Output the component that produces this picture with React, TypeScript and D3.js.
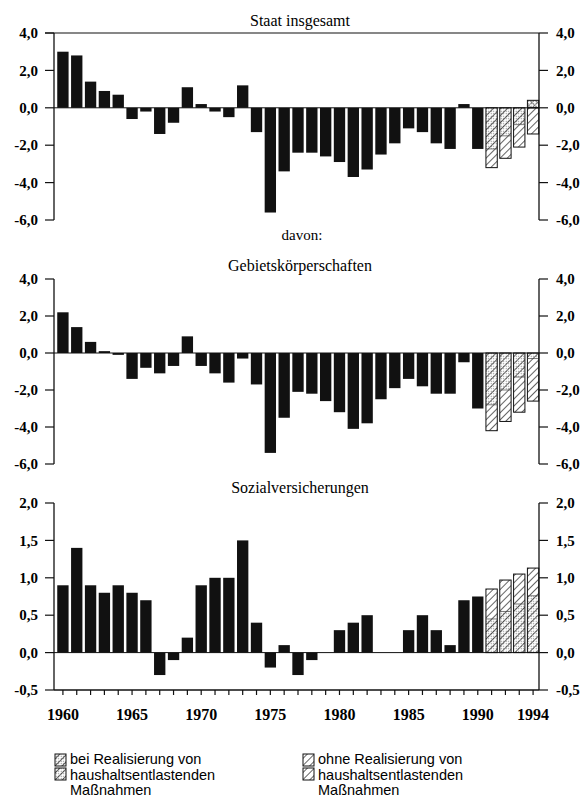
import React from 'react';
import * as d3 from 'd3';

// years shown on the x axis
const years = d3.range(1960, 1995);
const yearLabels = [1960, 1965, 1970, 1975, 1980, 1985, 1990, 1994];

// actual balances 1960-1990 (in % of GNP)
const staat = [3.0, 2.8, 1.4, 0.9, 0.7, -0.6, -0.2, -1.4, -0.8, 1.1, 0.2, -0.2, -0.5, 1.2, -1.3, -5.6, -3.4, -2.4, -2.4, -2.6, -2.9, -3.7, -3.3, -2.5, -1.9, -1.1, -1.3, -1.9, -2.2, 0.2, -2.2];
const gebiet = [2.2, 1.4, 0.6, 0.1, -0.1, -1.4, -0.8, -1.1, -0.7, 0.9, -0.7, -1.1, -1.6, -0.3, -1.7, -5.4, -3.5, -2.1, -2.2, -2.6, -3.2, -4.1, -3.8, -2.5, -1.9, -1.4, -1.8, -2.2, -2.2, -0.5, -3.0];
const sozial = [0.9, 1.4, 0.9, 0.8, 0.9, 0.8, 0.7, -0.3, -0.1, 0.2, 0.9, 1.0, 1.0, 1.5, 0.4, -0.2, 0.1, -0.3, -0.1, 0.0, 0.3, 0.4, 0.5, 0.0, 0.0, 0.3, 0.5, 0.3, 0.1, 0.7, 0.75];

// projections 1991-1994
const projYears = [1991, 1992, 1993, 1994];
const staatBei = [-2.2, -1.5, -0.9, 0.4];
const staatOhne = [-3.2, -2.7, -2.1, -1.4];
const gebietBei = [-2.8, -2.0, -1.3, -0.3];
const gebietOhne = [-4.2, -3.7, -3.2, -2.6];
const sozialBei = [0.45, 0.55, 0.65, 0.76];
const sozialOhne = [0.85, 0.97, 1.05, 1.13];

const ticksWide = [-6, -4, -2, 0, 2, 4];
const ticksSozial = [-0.5, 0, 0.5, 1, 1.5, 2];

const W = 588;
const H = 799;
const left = 54;
const right = 539;
const serif = '"Liberation Serif", "Times New Roman", serif';
const sans = '"Liberation Sans", Arial, sans-serif';

const x = d3.scaleBand<number>().domain(years).range([56, 540]).paddingInner(0.18).paddingOuter(0.09);
const fmt = (v: number) => v.toFixed(1).replace('.', ',');

interface PanelProps {
  title: string;
  titleY: number;
  domain: [number, number];
  range: [number, number];
  ticks: number[];
  actual: number[];
  bei: number[];
  ohne: number[];
  topLine?: boolean;
  xAxis?: boolean;
}

const Panel: React.FC<PanelProps> = ({ title, titleY, domain, range, ticks, actual, bei, ohne, topLine, xAxis }) => {
  const y = d3.scaleLinear().domain(domain).range(range);
  const y0 = y(0);
  const bw = x.bandwidth();
  return (
    <g>
      <text x={300} y={titleY} textAnchor="middle" fontFamily={serif} fontSize={16}>{title}</text>
      {actual.map((v, i) => (
        v !== 0 ? <rect key={i} x={x(years[i])} width={bw} y={Math.min(y(v), y0)} height={Math.abs(y(v) - y0)} fill="#111" /> : null
      ))}
      {projYears.map((yr, i) => {
        const o = ohne[i];
        const b = bei[i];
        const xo = x(yr) as number;
        const sameSide = Math.sign(o) === Math.sign(b) && Math.abs(b) < Math.abs(o);
        return (
          <g key={yr}>
            <rect x={xo} width={bw} y={Math.min(y(o), y0)} height={Math.abs(y(o) - y0)} fill="#fff" />
            {sameSide ? (
              <rect x={xo} width={bw} y={Math.min(y(b), y0)} height={Math.abs(y(b) - y0)} fill="url(#dots)" />
            ) : null}
            <rect x={xo} width={bw} y={Math.min(y(o), y0)} height={Math.abs(y(o) - y0)} fill="url(#hatch)" stroke="#111" strokeWidth={1} />
            {sameSide ? (
              <line x1={xo} x2={xo + bw} y1={y(b)} y2={y(b)} stroke="#444" strokeWidth={0.7} />
            ) : (
              <g>
                <rect x={xo} width={bw} y={Math.min(y(b), y0)} height={Math.abs(y(b) - y0)} fill="url(#dots)" />
                <rect x={xo} width={bw} y={Math.min(y(b), y0)} height={Math.abs(y(b) - y0)} fill="url(#cross)" stroke="#111" strokeWidth={1} />
              </g>
            )}
          </g>
        );
      })}
      <line x1={left} x2={right} y1={y0} y2={y0} stroke="#111" strokeWidth={1} />
      {topLine ? <line x1={left - 9} x2={right} y1={range[1]} y2={range[1]} stroke="#111" strokeWidth={1.2} /> : null}
      <line x1={left} x2={left} y1={range[0]} y2={range[1]} stroke="#111" strokeWidth={1.3} />
      <line x1={right} x2={right} y1={range[0]} y2={range[1]} stroke="#111" strokeWidth={1.3} />
      {ticks.map(t => (
        <g key={t}>
          <line x1={left - 9} x2={left} y1={y(t)} y2={y(t)} stroke="#111" strokeWidth={1.2} />
          <line x1={right} x2={right + 9} y1={y(t)} y2={y(t)} stroke="#111" strokeWidth={1.2} />
          <text x={38} y={y(t)} dy="0.35em" textAnchor="end" fontFamily={serif} fontWeight="bold" fontSize={15}>{fmt(t)}</text>
          <text x={556} y={y(t)} dy="0.35em" textAnchor="start" fontFamily={serif} fontWeight="bold" fontSize={15}>{fmt(t)}</text>
        </g>
      ))}
      {xAxis ? (
        <g>
          <line x1={left} x2={right} y1={range[0]} y2={range[0]} stroke="#111" strokeWidth={1.3} />
          {years.map(yr => {
            const cx = (x(yr) as number) + bw / 2;
            return <line key={yr} x1={cx} x2={cx} y1={range[0]} y2={range[0] + 5} stroke="#111" strokeWidth={1.2} />;
          })}
          {yearLabels.map(yr => (
            <text key={yr} x={(x(yr) as number) + bw / 2} y={720} textAnchor="middle" fontFamily={serif} fontWeight="bold" fontSize={16}>{yr}</text>
          ))}
        </g>
      ) : null}
    </g>
  );
};

const LegendItem: React.FC<{ x: number; lines: string[]; dotted: boolean }> = ({ x: lx, lines, dotted }) => (
  <g>
    {[0, 1].map(k => (
      <g key={k}>
        {dotted ? <rect x={lx} y={754 + k * 14} width={11} height={12} fill="url(#dots)" /> : null}
        <rect x={lx} y={754 + k * 14} width={11} height={12} fill="url(#hatch)" stroke="#111" strokeWidth={1} />
      </g>
    ))}
    {lines.map((l, k) => (
      <text key={k} x={lx + 15} y={764 + k * 15.6} fontFamily={sans} fontSize={14.5}>{l}</text>
    ))}
  </g>
);

export default function App() {
  return (
    <svg width={W} height={H} style={{ position: 'absolute', left: 0, top: 0, background: '#fff' }}>
      <defs>
        <pattern id="hatch" patternUnits="userSpaceOnUse" width={5} height={5} patternTransform="rotate(45)">
          <line x1={0} y1={0} x2={0} y2={5} stroke="#111" strokeWidth={1.3} />
        </pattern>
        <pattern id="cross" patternUnits="userSpaceOnUse" width={4} height={4} patternTransform="rotate(45)">
          <line x1={0} y1={0} x2={0} y2={4} stroke="#222" strokeWidth={0.8} />
          <line x1={0} y1={0} x2={4} y2={0} stroke="#222" strokeWidth={0.8} />
        </pattern>
        <pattern id="dots" patternUnits="userSpaceOnUse" width={2.5} height={2.5}>
          <circle cx={1.2} cy={1.2} r={0.6} fill="#777" />
        </pattern>
      </defs>
      <Panel title="Staat insgesamt" titleY={26} domain={[-6, 4]} range={[220, 33]} ticks={ticksWide}
        actual={staat} bei={staatBei} ohne={staatOhne} topLine />
      <text x={302} y={240} textAnchor="middle" fontFamily={serif} fontSize={15}>davon:</text>
      <Panel title="Gebietskörperschaften" titleY={271} domain={[-6, 4]} range={[464, 279]} ticks={ticksWide}
        actual={gebiet} bei={gebietBei} ohne={gebietOhne} />
      <Panel title="Sozialversicherungen" titleY={493} domain={[-0.5, 2]} range={[690, 503]} ticks={ticksSozial}
        actual={sozial} bei={sozialBei} ohne={sozialOhne} xAxis />
      <LegendItem x={55} dotted lines={['bei Realisierung von', 'haushaltsentlastenden', 'Maßnahmen']} />
      <LegendItem x={303} dotted={false} lines={['ohne Realisierung von', 'haushaltsentlastenden', 'Maßnahmen']} />
    </svg>
  );
}
